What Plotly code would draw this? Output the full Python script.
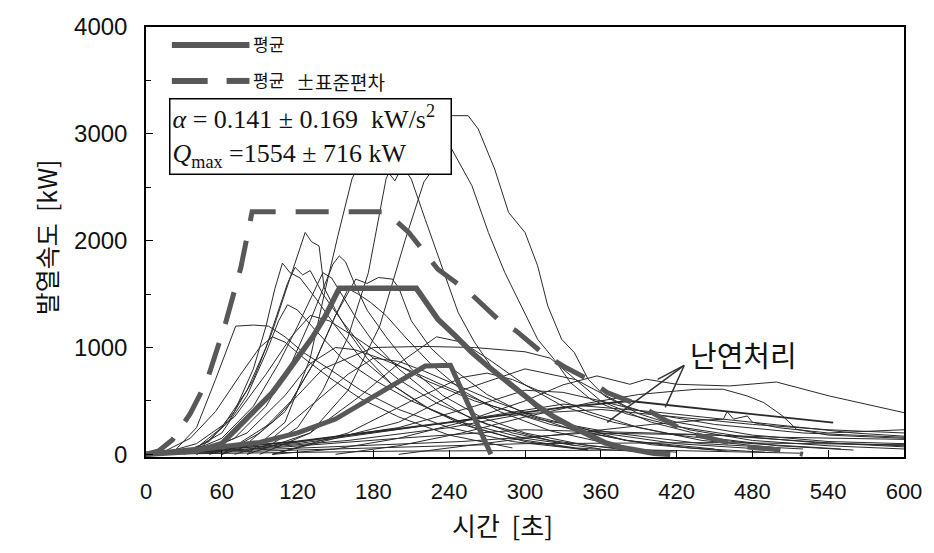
import plotly.graph_objects as go

# ---------------- data ----------------
# time [s], heat release rate [kW]
mean_t = [0, 20, 40, 60, 74, 88, 100, 110, 121, 132, 142, 153, 214, 231, 245, 258, 271, 284, 297, 310, 323, 336, 350, 363, 376, 389, 402, 415]
mean_q = [0, 10, 30, 100, 265, 420, 578, 740, 921, 1100, 1296, 1554, 1554, 1265, 1108, 953, 820, 703, 575, 452, 350, 265, 180, 110, 65, 31, 10, 0]

upper_t = [0, 10, 21, 35, 48, 63, 75, 84, 190, 208, 231, 242, 256, 280, 293, 315, 330, 350, 365, 389, 428, 460, 478, 497, 510, 520]
upper_q = [0, 31, 137, 380, 680, 1230, 1744, 2270, 2270, 2077, 1733, 1640, 1515, 1249, 1155, 937, 827, 703, 578, 468, 206, 112, 65, 47, 28, 0]

lower_t = [0, 30, 60, 90, 120, 150, 176, 200, 221, 241, 273]
lower_q = [0, 30, 70, 112, 200, 330, 515, 680, 827, 834, 0]

run01_t = [20, 45, 65, 85, 100, 110, 118, 126, 131, 137, 141, 150, 160, 175, 195, 220, 250, 290, 340, 400]
run01_q = [0, 80, 300, 700, 1150, 1500, 1800, 2077, 1990, 1950, 1560, 1350, 1150, 900, 650, 450, 280, 150, 60, 20]
run02_t = [25, 50, 70, 85, 95, 102, 108, 114, 122, 135, 150, 170, 195, 225, 260, 300, 350]
run02_q = [0, 120, 400, 800, 1200, 1550, 1790, 1700, 1650, 1450, 1200, 900, 650, 420, 250, 120, 40]
run03_t = [15, 40, 60, 80, 95, 105, 112, 118, 124, 130, 140, 155, 175, 200, 230, 270, 320, 380]
run03_q = [0, 60, 250, 600, 1000, 1350, 1600, 1750, 1680, 1720, 1500, 1250, 950, 700, 480, 280, 130, 40]
run04_t = [40, 70, 95, 115, 130, 140, 148, 153, 158, 165, 175, 190, 210, 235, 265, 300, 350, 420]
run04_q = [0, 150, 450, 850, 1250, 1550, 1780, 1858, 1800, 1600, 1350, 1100, 800, 550, 350, 200, 80, 20]
run05_t = [50, 80, 110, 135, 150, 166, 175, 184, 195, 200, 210, 225, 245, 270, 300, 340, 400, 460]
run05_q = [0, 100, 400, 900, 1300, 1640, 1600, 1655, 1640, 1560, 1250, 1000, 780, 560, 380, 220, 90, 30]
run06_t = [20, 40, 55, 71, 85, 97, 110, 125, 145, 170, 200, 240, 290, 350]
run06_q = [0, 250, 700, 1200, 1210, 1200, 1100, 950, 800, 600, 420, 250, 120, 40]
run07_t = [30, 60, 80, 95, 105, 112, 120, 135, 155, 180, 210, 250, 300, 360]
run07_q = [0, 200, 550, 950, 1250, 1400, 1350, 1150, 900, 700, 500, 300, 150, 50]
run08_t = [40, 80, 110, 130, 150, 165, 185, 210, 240, 275, 320, 380, 450]
run08_q = [0, 200, 550, 850, 1000, 980, 900, 780, 620, 450, 280, 130, 50]
run09_t = [60, 100, 130, 160, 180, 200, 220, 245, 275, 310, 360, 420, 500]
run09_q = [0, 150, 450, 750, 900, 870, 780, 650, 500, 350, 200, 100, 40]
run10_t = [30, 60, 85, 105, 120, 132, 140, 147, 155, 165, 180, 200, 225, 255, 290, 340]
run10_q = [0, 150, 450, 850, 1200, 1500, 1700, 1650, 1500, 1300, 1050, 800, 560, 350, 200, 80]
run11_t = [10, 40, 70, 95, 115, 130, 145, 165, 190, 220, 260, 310, 370, 440, 520]
run11_q = [0, 100, 350, 750, 1100, 1300, 1250, 1100, 900, 700, 500, 330, 200, 100, 50]
run12_t = [60, 90, 115, 135, 150, 160, 168, 178, 190, 205, 225, 250, 280, 320, 370]
run12_q = [0, 200, 500, 900, 1300, 1550, 1500, 1420, 1300, 1100, 850, 600, 400, 220, 90]
run13_t = [10, 35, 55, 75, 90, 100, 110, 125, 145, 170, 200, 240, 290]
run13_q = [0, 150, 400, 750, 1000, 1100, 1050, 900, 720, 520, 350, 180, 60]
run14_t = [70, 100, 120, 140, 160, 176, 190, 205, 220, 235, 242, 255, 263, 276, 287, 300, 310, 318, 329, 339, 350, 363, 390, 430, 480, 540, 600]
run14_q = [0, 100, 250, 600, 1100, 1700, 2576, 3000, 3180, 3200, 3170, 3170, 3045, 2670, 2264, 2077, 1765, 1390, 1077, 953, 703, 546, 380, 230, 130, 80, 50]
run15_t = [80, 110, 130, 142, 152, 163, 172, 180, 188, 197, 203, 210, 221, 231, 247, 260, 273, 289, 310, 340, 380, 430, 490]
run15_q = [0, 300, 900, 1546, 2050, 2576, 2800, 2850, 2700, 2560, 2700, 2576, 2200, 1858, 1330, 1050, 827, 640, 420, 260, 130, 60, 20]
run16_t = [90, 130, 160, 185, 205, 220, 235, 242, 258, 271, 284, 297, 310, 323, 336, 352, 380, 420, 470, 530, 600]
run16_q = [0, 200, 600, 1200, 2000, 2550, 2800, 2857, 2514, 2077, 1702, 1390, 1077, 890, 671, 515, 380, 260, 170, 110, 80]
run17_t = [60, 100, 140, 180, 220, 260, 300, 320, 340, 360, 400, 450, 500, 560]
run17_q = [0, 300, 800, 1000, 1010, 1000, 960, 900, 700, 500, 300, 150, 80, 40]
run18_t = [80, 130, 170, 200, 230, 250, 270, 300, 330, 370, 420, 480, 550]
run18_q = [0, 200, 550, 850, 1100, 1050, 900, 650, 450, 300, 180, 100, 50]
run19_t = [100, 160, 210, 250, 270, 290, 320, 350, 390, 440, 500]
run19_q = [0, 200, 500, 720, 760, 700, 550, 400, 250, 130, 60]
run20_t = [0, 100, 200, 260, 300, 330, 360, 400, 450, 520, 600]
run20_q = [0, 80, 250, 450, 600, 580, 500, 380, 280, 200, 160]
run21_t = [100, 150, 200, 250, 300, 330, 357, 383, 396, 420, 462, 499, 541, 588, 600]
run21_q = [0, 50, 150, 300, 500, 650, 734, 656, 703, 656, 640, 677, 546, 422, 390]
run22_t = [150, 200, 250, 300, 350, 390, 420, 436, 457, 476, 489, 504, 515, 540, 600]
run22_q = [0, 80, 200, 350, 480, 560, 593, 609, 609, 546, 484, 359, 234, 180, 150]
run23_t = [0, 120, 240, 330, 383, 460, 544]
run23_q = [0, 120, 300, 440, 499, 400, 296]
run24_t = [0, 80, 160, 240, 300, 360, 420, 480, 540, 600]
run24_q = [0, 50, 130, 250, 380, 420, 350, 280, 230, 200]
run25_t = [0, 100, 200, 300, 400, 500, 600]
run25_q = [0, 60, 150, 230, 200, 160, 140]
run26_t = [0, 120, 240, 330, 400, 480, 560, 600]
run26_q = [0, 100, 300, 470, 400, 300, 200, 170]
run27_t = [0, 150, 300, 450, 600]
run27_q = [0, 50, 100, 110, 90]
run28_t = [200, 300, 400, 440, 457, 460, 465, 470, 476, 480, 500, 540, 580, 600]
run28_q = [0, 150, 280, 320, 328, 400, 330, 340, 359, 300, 250, 200, 220, 230]
run29_t = [100, 200, 250, 300, 340, 380, 420, 480, 540, 600]
run29_q = [0, 300, 600, 800, 700, 450, 300, 180, 120, 100]
run30_t = [0, 200, 400, 520]
run30_q = [0, 30, 40, 10]
run31_t = [0, 250, 350, 450, 550, 600]
run31_q = [0, 120, 200, 180, 100, 70]

# fire-retardant pointer: label anchor and the curves it points at
retardant_label = "난연처리"
retardant_apex_t, retardant_apex_q = 426, 832
retardant_tips_t = [365, 405, 411]
retardant_tips_q = [299, 701, 439]

x_ticks = [0, 60, 120, 180, 240, 300, 360, 420, 480, 540, 600]
y_ticks = [0, 1000, 2000, 3000, 4000]

# ---------------- figure ----------------
fig = go.Figure()

thin_runs = [
    (run01_t, run01_q), (run02_t, run02_q), (run03_t, run03_q), (run04_t, run04_q),
    (run05_t, run05_q), (run06_t, run06_q), (run07_t, run07_q), (run08_t, run08_q),
    (run09_t, run09_q), (run10_t, run10_q), (run11_t, run11_q), (run12_t, run12_q),
    (run13_t, run13_q), (run14_t, run14_q), (run15_t, run15_q), (run16_t, run16_q),
    (run17_t, run17_q), (run18_t, run18_q), (run19_t, run19_q), (run20_t, run20_q),
    (run21_t, run21_q), (run22_t, run22_q), (run23_t, run23_q), (run24_t, run24_q),
    (run25_t, run25_q), (run26_t, run26_q), (run27_t, run27_q), (run28_t, run28_q),
    (run29_t, run29_q), (run30_t, run30_q), (run31_t, run31_q),
]
for t, q in thin_runs:
    w = 1.8 if t is run23_t else 1.0
    fig.add_trace(go.Scatter(x=t, y=q, mode="lines", showlegend=False,
                             line=dict(color="#2a2a2a", width=w)))

thick = "#585858"
fig.add_trace(go.Scatter(x=lower_t, y=lower_q, mode="lines", showlegend=False,
                         line=dict(color=thick, width=5)))
fig.add_trace(go.Scatter(x=upper_t, y=upper_q, mode="lines", showlegend=False,
                         line=dict(color=thick, width=5, dash="33px,20px")))
fig.add_trace(go.Scatter(x=mean_t, y=mean_q, mode="lines", showlegend=False,
                         line=dict(color=thick, width=5.5)))

tick_font = dict(family="Liberation Sans, Arial, sans-serif", size=24, color="#111")
xtick_font = dict(family="Liberation Sans, Arial, sans-serif", size=22, color="#111")
kfont = "Noto Sans CJK KR, Noto Sans, sans-serif"

fig.update_xaxes(range=[0, 600], tickvals=x_ticks, ticks="inside", ticklen=7,
                 tickcolor="black", showline=True, linecolor="black", linewidth=1.5,
                 mirror=True, showgrid=False, zeroline=False, tickfont=xtick_font,
                 ticklabelstandoff=14, ticklabeloverflow="allow")
fig.update_yaxes(range=[-25, 4000], tickvals=y_ticks, ticks="inside", ticklen=7,
                 tickcolor="black", showline=True, linecolor="black", linewidth=1.5,
                 mirror=True, showgrid=False, zeroline=False, tickfont=tick_font,
                 ticklabelstandoff=12, ticklabeloverflow="allow",
                 minor=dict(dtick=500, tick0=0, ticks="inside", ticklen=5, tickcolor="black"))

W, H = 934, 553
PL, PR, PT, PB = 146, 908, 27, 457.5  # plot area in page pixels
L, T = PL, PT
R, B = W - PR, H - PB
pw, ph = PR - PL, PB - PT

def px(xp):
    return (xp - PL) / pw

def py(yp):
    return (PB - yp) / ph

annotations = []
shapes = []

# axis titles
annotations.append(dict(xref="paper", yref="paper", x=px(45), y=py(238), text="발열속도  [kW]",
                        xanchor="center", yanchor="middle",
                        textangle=-90, showarrow=False, font=dict(family=kfont, size=25, color="#111")))
annotations.append(dict(xref="paper", yref="paper", x=px(504), y=py(525), text="시간  [초]",
                        xanchor="center", yanchor="middle",
                        showarrow=False, font=dict(family=kfont, size=26, color="#111")))

# legend (hand drawn, as in the reference)
shapes.append(dict(type="line", xref="paper", yref="paper", x0=px(172), x1=px(250), y0=py(45), y1=py(45),
                   line=dict(color=thick, width=6)))
annotations.append(dict(xref="paper", yref="paper", x=px(252), y=py(44), text="평균",
                        xanchor="left", yanchor="middle",
                        showarrow=False, font=dict(family=kfont, size=17, color="#111")))
shapes.append(dict(type="line", xref="paper", yref="paper", x0=px(172), x1=px(208), y0=py(81), y1=py(81),
                   line=dict(color=thick, width=6)))
shapes.append(dict(type="line", xref="paper", yref="paper", x0=px(227), x1=px(250), y0=py(81), y1=py(81),
                   line=dict(color=thick, width=6)))
annotations.append(dict(xref="paper", yref="paper", x=px(252), y=py(80), text="평균",
                        xanchor="left", yanchor="middle",
                        showarrow=False, font=dict(family=kfont, size=17, color="#111")))
annotations.append(dict(xref="paper", yref="paper", x=px(295), y=py(82), text="±표준편차",
                        xanchor="left", yanchor="middle",
                        showarrow=False, font=dict(family=kfont, size=19, color="#111")))

# formula box
annotations.append(dict(xref="paper", yref="paper", x=px(169), y=py(98), xanchor="left", yanchor="top",
                        text="<i>α</i> = 0.141 ± 0.169  kW/s<sup>2</sup><br><i>Q</i><sub>max</sub> =1554 ± 716 kW",
                        align="left", showarrow=False, bgcolor="white", bordercolor="black",
                        borderwidth=1.5, borderpad=2, width=276, height=70,
                        font=dict(family="Liberation Serif, Times New Roman, serif", size=26, color="#111")))

# fire-retardant label with pointers
annotations.append(dict(xref="paper", yref="paper", x=px(747), y=py(354), text=retardant_label,
                        xanchor="center", yanchor="middle",
                        showarrow=False, font=dict(family=kfont, size=29, color="#111")))
for tt, qq in zip(retardant_tips_t, retardant_tips_q):
    shapes.append(dict(type="line", xref="x", yref="y", x0=retardant_apex_t, y0=retardant_apex_q,
                       x1=tt, y1=qq, line=dict(color="#333", width=1.5)))

fig.update_layout(width=W, height=H, margin=dict(l=L, r=R, t=T, b=B),
                  plot_bgcolor="white", paper_bgcolor="white",
                  annotations=annotations, shapes=shapes)

# remove the default 8px body margin so the figure sits at the page origin
fig.write_html("out.html", config={"displayModeBar": False},
               post_script="document.body.style.margin='0';")
